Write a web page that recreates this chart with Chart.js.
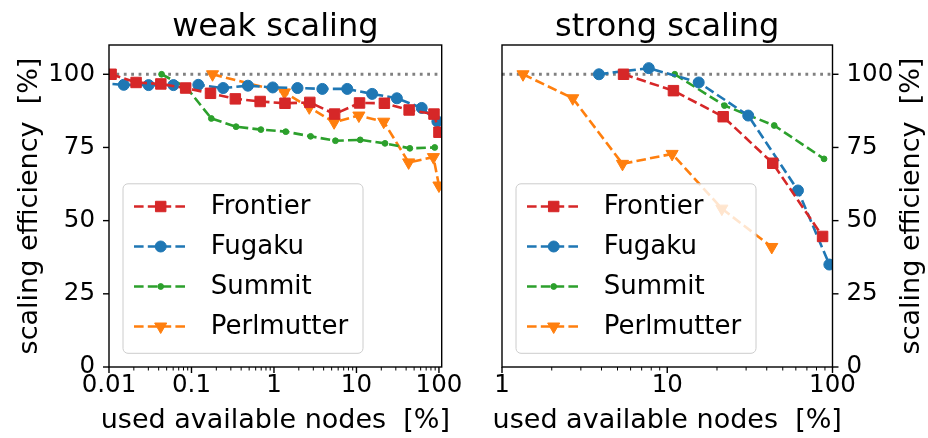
<!DOCTYPE html>
<html><head><meta charset="utf-8">
<script src="https://cdn.jsdelivr.net/npm/chart.js@4/dist/chart.umd.min.js"></script>
<style>
html,body{margin:0;padding:0;background:#fff;width:928px;height:438px;overflow:hidden}
#cl{position:absolute;left:0;top:0}
#cr{position:absolute;left:470px;top:0}
</style></head><body>
<canvas id="cl" width="470" height="438"></canvas>
<canvas id="cr" width="458" height="438"></canvas>
<script>
// ---------- data ----------
const seriesNames = ['Frontier', 'Fugaku', 'Summit', 'Perlmutter'];
const seriesColors = ['#d62728', '#1f77b4', '#2ca02c', '#ff7f0e'];

// weak scaling: x = used available nodes [%], y = scaling efficiency [%]
const weakFrontierX = [0.0106, 0.0213, 0.0425, 0.0850, 0.170, 0.340, 0.680, 1.36, 2.72, 5.44, 10.9, 21.8, 43.5, 87.1, 100];
const weakFrontierY = [100, 97.2, 96.7, 95.3, 93.5, 91.6, 90.7, 90.1, 90.4, 86.4, 90.2, 90.1, 87.8, 86.4, 80.2];
const weakFugakuX = [0.0075, 0.0151, 0.0302, 0.0604, 0.121, 0.242, 0.483, 0.966, 1.93, 3.86, 7.73, 15.5, 30.9, 61.8, 95.7];
const weakFugakuY = [97, 96.4, 96.3, 96.3, 96.4, 95.3, 96.1, 95.5, 95.3, 95.0, 95.0, 93.3, 91.8, 88.5, 83.9];
const weakSummitX = [0.0434, 0.0868, 0.174, 0.347, 0.694, 1.39, 2.78, 5.56, 11.1, 22.2, 44.4, 88.9];
const weakSummitY = [100, 95.5, 84.9, 82.1, 81.1, 80.4, 78.8, 77.3, 77.6, 76.4, 74.7, 75.0];
const weakPerlmutterX = [0.18, 1.34, 2.68, 5.36, 10.7, 21.4, 42.9, 85.7, 100];
const weakPerlmutterY = [100, 93.8, 88.7, 83.6, 85.9, 83.8, 69.9, 71.7, 62.0];

// strong scaling
const strongFrontierX = [5.44, 10.9, 21.8, 43.5, 87.1];
const strongFrontierY = [100, 94.4, 85.5, 69.6, 44.6];
const strongFugakuX = [3.86, 7.73, 15.5, 30.9, 61.8, 95.7];
const strongFugakuY = [100, 102.1, 97.2, 85.9, 60.3, 35.0];
const strongSummitX = [11.1, 22.2, 44.4, 88.9];
const strongSummitY = [100, 89.3, 82.5, 71.1];
const strongPerlmutterX = [1.34, 2.68, 5.36, 10.7, 21.4, 42.9];
const strongPerlmutterY = [100, 91.8, 69.4, 72.8, 54.1, 41.0];

// ticks / labels
const yTicks = [0, 25, 50, 75, 100];
const yRange = [0, 110];
const referenceLevel = 100;
const weakXTicks = [0.01, 0.1, 1, 10, 100];
const weakXTickLabels = ['0.01', '0.1', '1', '10', '100'];
const weakXRange = [0.01, 108];
const strongXTicks = [1, 10, 100];
const strongXTickLabels = ['1', '10', '100'];
const strongXRange = [1, 100];
const titles = ['weak scaling', 'strong scaling'];
const xLabel = 'used available nodes  [%]';
const yLabel = 'scaling efficiency  [%]';

// ---------- styling ----------
const FONT = "'DejaVu Sans', 'Liberation Sans', sans-serif";
const markerStyles = [
  { pointStyle: 'rect', pointRadius: 7.4, pointRotation: 0 },
  { pointStyle: 'circle', pointRadius: 5.5, pointRotation: 0 },
  { pointStyle: 'circle', pointRadius: 2.9, pointRotation: 0 },
  { pointStyle: 'triangle', pointRadius: 7.0, pointRotation: 180 }
];
const LINE_W = 2.6, DASH = [9.6, 4.2];

function makeDatasets(xs, ys) {
  return seriesNames.map((name, i) => ({
    label: name,
    data: xs[i].map((x, j) => ({ x: x, y: ys[i][j] })),
    borderColor: seriesColors[i],
    backgroundColor: seriesColors[i],
    pointBackgroundColor: seriesColors[i],
    pointBorderColor: seriesColors[i],
    borderWidth: LINE_W,
    borderDash: DASH,
    pointBorderWidth: 1,
    pointStyle: markerStyles[i].pointStyle,
    pointRadius: markerStyles[i].pointRadius,
    pointRotation: markerStyles[i].pointRotation,
    pointHoverRadius: markerStyles[i].pointRadius,
    tension: 0,
    fill: false,
    showLine: true,
    clip: 0
  }));
}

function logTickValues(min, max) {
  const t = [];
  for (let e = Math.floor(Math.log10(min)); e <= Math.ceil(Math.log10(max)); e++) {
    for (let m = 1; m < 10; m++) {
      const v = +(m * Math.pow(10, e)).toPrecision(6);
      if (v >= min * 0.9999 && v <= max * 1.0001) t.push(v);
    }
  }
  return t;
}
function isMajor(v, majors) { return majors.some(m => Math.abs(v / m - 1) < 1e-6); }

// decoration plugin: reference line, frame, tick marks, texts, legend
const decoPlugin = {
  id: 'deco',
  beforeDatasetsDraw(chart) {
    const c = chart.ctx, a = chart.chartArea, ys = chart.scales.y;
    const yy = ys.getPixelForValue(referenceLevel);
    c.save();
    c.beginPath(); c.rect(a.left, a.top, a.right - a.left, a.bottom - a.top); c.clip();
    c.strokeStyle = '#808080'; c.lineWidth = 2.8; c.setLineDash([2.8, 4.6]); c.lineCap = 'butt';
    c.beginPath(); c.moveTo(a.left, yy); c.lineTo(a.right, yy); c.stroke();
    c.restore();
  },
  afterDatasetsDraw(chart) {
    const o = chart.options.plugins.deco;
    const c = chart.ctx, a = chart.chartArea, xs = chart.scales.x, ys = chart.scales.y;
    c.save();
    c.setLineDash([]);
    c.strokeStyle = '#000';
    xs.ticks.forEach(t => {
      const px = xs.getPixelForValue(t.value);
      const maj = isMajor(t.value, o.xMajors);
      c.lineWidth = maj ? 1.4 : 1.0;
      c.beginPath(); c.moveTo(px, a.bottom); c.lineTo(px, a.bottom + (maj ? 6 : 3.5)); c.stroke();
    });
    ys.ticks.forEach(t => {
      const py = ys.getPixelForValue(t.value);
      c.lineWidth = 1.4;
      c.beginPath();
      if (o.yRight) { c.moveTo(a.right, py); c.lineTo(a.right + 6, py); }
      else { c.moveTo(a.left, py); c.lineTo(a.left - 6, py); }
      c.stroke();
    });
    c.lineWidth = 1.4;
    c.strokeRect(a.left, a.top, a.right - a.left, a.bottom - a.top);
    c.restore();
  },
  afterDraw(chart) {
    const o = chart.options.plugins.deco;
    const c = chart.ctx, a = chart.chartArea;
    const cx = (a.left + a.right) / 2;
    c.save();
    c.fillStyle = '#000';
    c.font = '32px ' + FONT; c.textAlign = 'center'; c.textBaseline = 'alphabetic';
    c.fillText(o.title, cx, 36);
    c.font = '27px ' + FONT; c.textBaseline = 'middle';
    c.fillText(xLabel, cx, 421);
    c.save();
    c.translate(o.yLabelX, (a.top + a.bottom) / 2);
    c.rotate(-Math.PI / 2);
    c.textAlign = 'center'; c.textBaseline = 'middle';
    c.fillText(yLabel, 0, 0);
    c.restore();
    // legend
    const bx = a.left + 14, bw = 240, bh = 169.5, by = a.bottom - 13.7 - bh, r = 5;
    c.beginPath();
    c.moveTo(bx + r, by); c.lineTo(bx + bw - r, by); c.arcTo(bx + bw, by, bx + bw, by + r, r);
    c.lineTo(bx + bw, by + bh - r); c.arcTo(bx + bw, by + bh, bx + bw - r, by + bh, r);
    c.lineTo(bx + r, by + bh); c.arcTo(bx, by + bh, bx, by + bh - r, r);
    c.lineTo(bx, by + r); c.arcTo(bx, by, bx + r, by, r); c.closePath();
    c.fillStyle = 'rgba(255,255,255,0.8)'; c.fill();
    c.strokeStyle = '#cccccc'; c.lineWidth = 1; c.stroke();
    chart.data.datasets.forEach((ds, i) => {
      const ry = by + 22.7 + i * 40;
      c.strokeStyle = ds.borderColor; c.lineWidth = LINE_W; c.setLineDash(DASH); c.lineCap = 'butt';
      c.beginPath(); c.moveTo(bx + 11, ry); c.lineTo(bx + 63.3, ry); c.stroke();
      c.setLineDash([]);
      c.fillStyle = ds.backgroundColor; c.strokeStyle = ds.borderColor; c.lineWidth = 1;
      Chart.helpers.drawPoint(c, { pointStyle: ds.pointStyle, radius: ds.pointRadius, rotation: ds.pointRotation, borderWidth: 1 }, bx + 37.7, ry);
      c.fillStyle = '#000'; c.font = '26px ' + FONT; c.textAlign = 'left'; c.textBaseline = 'middle';
      c.fillText(ds.label, bx + 87.7, ry + 1);
    });
    c.restore();
  }
};

function makeChart(id, datasets, cfg) {
  return new Chart(document.getElementById(id), {
    type: 'scatter',
    data: { datasets: datasets },
    plugins: [decoPlugin],
    options: {
      responsive: false,
      devicePixelRatio: 1,
      animation: false,
      events: [],
      layout: { padding: cfg.padding },
      plugins: {
        legend: { display: false },
        tooltip: { enabled: false },
        title: { display: false },
        deco: { title: cfg.title, xMajors: cfg.xMajors, yRight: cfg.yRight, yLabelX: cfg.yLabelX }
      },
      scales: {
        x: {
          type: 'logarithmic',
          min: cfg.xRange[0], max: cfg.xRange[1],
          afterBuildTicks: s => { s.ticks = logTickValues(cfg.xRange[0], cfg.xRange[1]).map(v => ({ value: v })); },
          afterFit: s => { s.height = 71; },
          grid: { display: false, drawTicks: false },
          border: { display: false },
          ticks: {
            autoSkip: false, maxRotation: 0, minRotation: 0, padding: 4,
            color: '#000', font: { family: FONT, size: 24.5 },
            callback: v => { const k = cfg.xMajors.findIndex(m => Math.abs(v / m - 1) < 1e-6); return k >= 0 ? cfg.xLabels[k] : ''; }
          }
        },
        y: {
          type: 'linear',
          position: cfg.yRight ? 'right' : 'left',
          min: yRange[0], max: yRange[1],
          afterBuildTicks: s => { s.ticks = yTicks.map(v => ({ value: v })); },
          afterFit: s => { s.width = cfg.yWidth; },
          grid: { display: false, drawTicks: false },
          border: { display: false },
          ticks: { padding: 14, color: '#000', font: { family: FONT, size: 24.5 } }
        }
      }
    }
  });
}

makeChart('cl',
  makeDatasets([weakFrontierX, weakFugakuX, weakSummitX, weakPerlmutterX], [weakFrontierY, weakFugakuY, weakSummitY, weakPerlmutterY]),
  { title: titles[0], xRange: weakXRange, xMajors: weakXTicks, xLabels: weakXTickLabels, yRight: false, yWidth: 109, yLabelX: 30,
    padding: { left: 0, right: 28.3, top: 45, bottom: 0 } });

makeChart('cr',
  makeDatasets([strongFrontierX, strongFugakuX, strongSummitX, strongPerlmutterX], [strongFrontierY, strongFugakuY, strongSummitY, strongPerlmutterY]),
  { title: titles[1], xRange: strongXRange, xMajors: strongXTicks, xLabels: strongXTickLabels, yRight: true, yWidth: 95.5, yLabelX: 442,
    padding: { left: 32, right: 0, top: 45, bottom: 0 } });
</script>
</body></html>
